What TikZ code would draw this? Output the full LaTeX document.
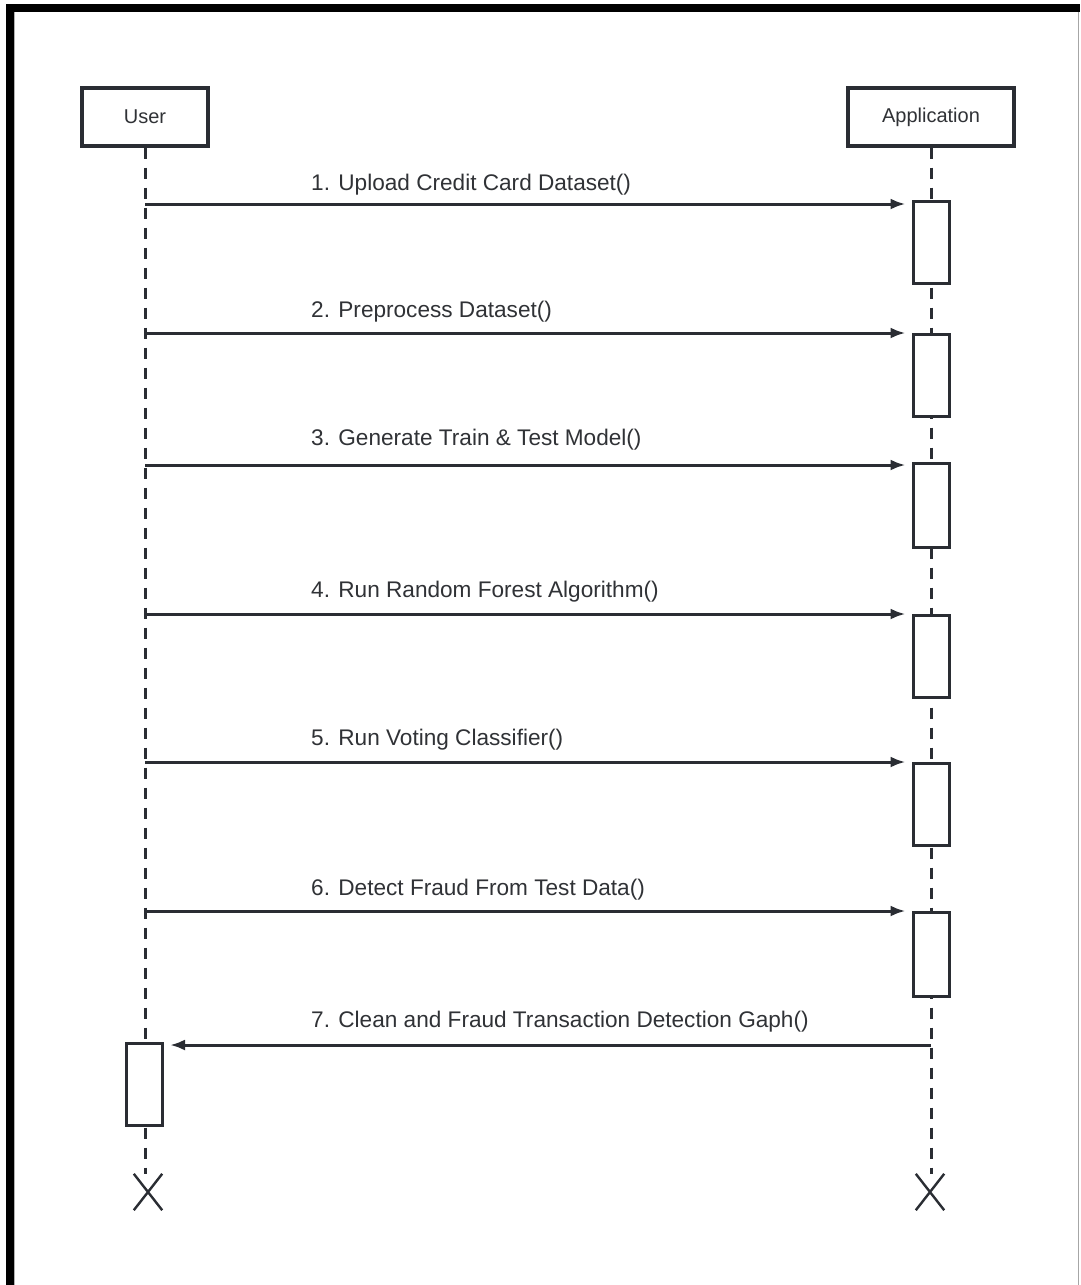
\documentclass[tikz,border=0pt]{standalone}
\usepackage{fontspec}
\setmainfont{Liberation Sans}
\usetikzlibrary{arrows.meta,calc,shapes.misc}
\definecolor{ln}{HTML}{2A2D33}
\definecolor{tx}{HTML}{303236}
\tikzset{
  actor/.style={draw=ln, line width=3.2pt, fill=white, minimum width=126pt, minimum height=58pt, inner sep=0pt, text=tx, font=\fontsize{20}{24}\selectfont},
  actbox/.style={draw=ln, line width=3pt, fill=white, minimum width=36pt, minimum height=82pt, inner sep=0pt},
  msg/.style={draw=ln, line width=3pt, -{Latex[length=15pt,width=11pt]}},
  lbl/.style={anchor=base west, inner sep=0pt, text=tx, font=\fontsize{22.6}{26}\selectfont},
  life/.style={draw=ln, line width=3pt, dash pattern=on 11pt off 9pt},
  endmark/.style={draw=ln, cross out, line width=2.4pt, minimum width=26pt, minimum height=34pt, inner sep=0pt}
}
\begin{document}
\begin{tikzpicture}[x=1pt,y=-1pt]
\useasboundingbox (0,0) rectangle (1080,1285);
\fill[white] (0,0) rectangle (1080,1285);
% frame
\fill[black] (6,4) rectangle (14,1285);
\fill[black] (6,4) rectangle (1080,12);
\draw[black!35, line width=1pt] (1078.5,12) -- (1078.5,1285);
\draw[black!30, line width=1pt] (14.5,12) -- (14.5,1285);

% actors
\node[actor] (user) at (145,117) {User};
\node[actor, minimum width=166pt] (app) at (931,117) {Application};

% end marks
\node[endmark] (xu) at (148,1192) {};
\node[endmark] (xa) at (930,1192) {};

% lifelines
\draw[life] (user.south) -- (user.south |- xu.north);
\draw[life] (app.south) -- (app.south |- xa.north);

% activation boxes
\node[actbox, anchor=north] (a1) at (931,200) {};
\node[actbox, anchor=north] (a2) at (931,333) {};
\node[actbox, anchor=north, minimum height=84pt] (a3) at (931,462) {};
\node[actbox, anchor=north] (a4) at (931,614) {};
\node[actbox, anchor=north] (a5) at (931,762) {};
\node[actbox, anchor=north, minimum height=84pt] (a6) at (931,911) {};
\node[actbox, anchor=north] (ua) at (144.5,1042) {};

% messages
\draw[msg] ($(user.south |- a1.north)+(0,4)$) -- ($(a1.north west)+(-6,4)$);
\draw[msg] ($(user.south |- a2.north)+(0,0)$) -- ($(a2.north west)+(-6,0)$);
\draw[msg] ($(user.south |- a3.north)+(0,3)$) -- ($(a3.north west)+(-6,3)$);
\draw[msg] ($(user.south |- a4.north)+(0,0)$) -- ($(a4.north west)+(-6,0)$);
\draw[msg] ($(user.south |- a5.north)+(0,0)$) -- ($(a5.north west)+(-6,0)$);
\draw[msg] ($(user.south |- a6.north)+(0,0)$) -- ($(a6.north west)+(-6,0)$);
\draw[msg] ($(app.south |- ua.north)+(0,3)$) -- ($(ua.north east)+(6,3)$);

% labels
\node[lbl] (l1) at (311,190) {1. Upload Credit Card Dataset()};
\node[lbl] (l2) at (311,317) {2. Preprocess Dataset()};
\node[lbl] (l3) at (311,445) {3. Generate Train \& Test Model()};
\node[lbl] (l4) at (311,597) {4. Run Random Forest Algorithm()};
\node[lbl] (l5) at (311,745) {5. Run Voting Classifier()};
\node[lbl] (l6) at (311,895) {6. Detect Fraud From Test Data()};
\node[lbl] (l7) at (311,1027) {7. Clean and Fraud Transaction Detection Gaph()};
\end{tikzpicture}
\end{document}
